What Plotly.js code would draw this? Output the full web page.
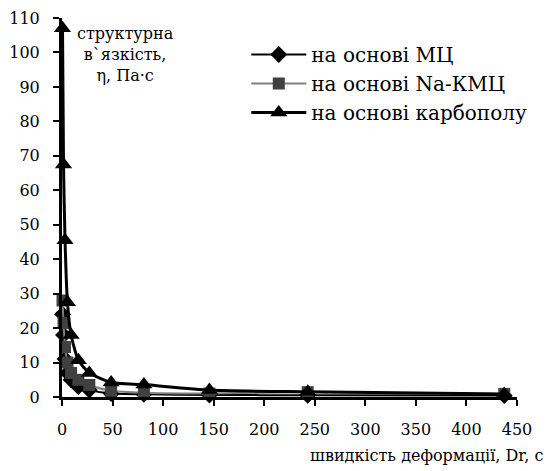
<!DOCTYPE html>
<html>
<head>
<meta charset="utf-8">
<script src="https://cdn.plot.ly/plotly-3.0.1.min.js"></script>
<style>html,body{margin:0;padding:0;background:#fff;}#chart{width:548px;height:471px;}</style>
</head>
<body>
<div id="chart"></div>
<script>
// Data
const shearMC = [0.5, 1.5, 3, 5.4, 9, 16.2, 27, 48.6, 81, 145.8, 243, 437.4];
const viscMC = [24, 18, 11, 7, 5, 3, 2, 1, 0.8, 0.6, 0.5, 0.4];
const shearNa = [0.5, 1.5, 3, 5.4, 9, 16.2, 27, 48.6, 81, 145.8, 243, 437.4];
const viscNa = [28, 21.5, 14.5, 10, 7, 5, 3.5, 1.8, 1.2, 1.0, 1.4, 0.9];
const shearCarb = [0.5, 1.5, 3, 5.4, 9, 16.2, 27, 48.6, 81, 145.8, 243, 437.4];
const viscCarb = [107, 67.5, 45.5, 27.5, 18, 10.7, 7, 4.2, 3.6, 2, 1.5, 0.9];
const seriesNames = ['на основі МЦ', 'на основі Na-КМЦ', 'на основі карбополу'];
const xTicks = [0, 50, 100, 150, 200, 250, 300, 350, 400, 450];
const yTicks = [0, 10, 20, 30, 40, 50, 60, 70, 80, 90, 100, 110];

const FAM = 'DejaVu Serif';

const traces = [
  {x: shearMC, y: viscMC, name: seriesNames[0], mode: 'lines+markers',
   line: {color: '#000', width: 2, shape: 'spline', smoothing: 0.6},
   marker: {symbol: 'diamond', size: 13, color: '#000'}, cliponaxis: false},
  {x: shearNa, y: viscNa, name: seriesNames[1], mode: 'lines+markers',
   line: {color: '#7f7f7f', width: 2, shape: 'spline', smoothing: 0.6},
   marker: {symbol: 'square', size: 12, color: '#404040'}, cliponaxis: false},
  {x: shearCarb, y: viscCarb, name: seriesNames[2], mode: 'lines+markers',
   line: {color: '#000', width: 3, shape: 'spline', smoothing: 0.6},
   marker: {symbol: 'triangle-up', size: 15, color: '#000'}, cliponaxis: false}
];

const layout = {
  width: 548, height: 471,
  margin: {l: 62, r: 31, t: 18, b: 74},
  showlegend: true,
  legend: {x: 0.405, y: 0.955, xanchor: 'left', yanchor: 'top', bgcolor: 'rgba(0,0,0,0)',
           font: {size: 20, family: FAM, color: '#000'}, itemwidth: 55},
  xaxis: {range: [0, 450], tickvals: xTicks, ticktext: xTicks.map(String), showgrid: false, zeroline: false,
          showline: true, linecolor: '#000', linewidth: 3, ticks: 'outside', ticklen: 6, tickwidth: 2,
          tickcolor: '#000', tickfont: {size: 16, family: FAM, color: '#000'},
          ticklabelstandoff: 10},
  yaxis: {range: [0, 110], tickvals: yTicks, ticktext: yTicks.map(String), showgrid: false, zeroline: false,
          showline: true, linecolor: '#000', linewidth: 3, ticks: 'outside', ticklen: 6, tickwidth: 2,
          tickcolor: '#000', tickfont: {size: 16, family: FAM, color: '#000'},
          ticklabelstandoff: 10},
  annotations: [
    {xref: 'paper', yref: 'paper', x: 0.14, y: 0.99, xanchor: 'center', yanchor: 'top',
     text: 'структурна<br>в`язкість,<br>η, Па·с', showarrow: false,
     font: {size: 16, family: FAM, color: '#000'}, align: 'center'},
    {xref: 'paper', yref: 'paper', x: 1.062, y: -0.125, xanchor: 'right', yanchor: 'top',
     text: 'швидкість деформації, Dr, с', showarrow: false,
     font: {size: 16, family: FAM, color: '#000'}}
  ]
};

Plotly.newPlot('chart', traces, layout, {displayModeBar: false, staticPlot: true});
</script>
</body>
</html>
